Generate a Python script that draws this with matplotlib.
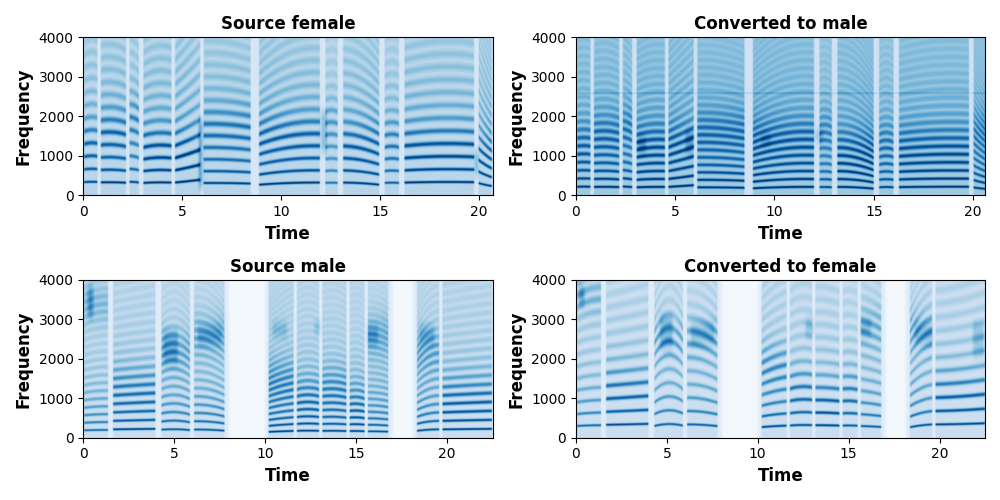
import numpy as np
import matplotlib.pyplot as plt
from matplotlib.ticker import MultipleLocator

FMAX = 4000

# ---- Source female ----
sf_tmax = 20.7
sf_start = [0.0, 0.85, 2.3, 3.0, 4.6, 6.05, 8.85, 12.2, 13.1, 15.2, 16.2, 19.95]
sf_end = [0.75, 2.2, 2.85, 4.5, 5.95, 8.5, 12.0, 12.9, 15.0, 16.0, 19.8, 20.7]
sf_f0a = [320, 315, 330, 300, 310, 300, 255, 300, 310, 300, 310, 300]
sf_f0b = [330, 318, 325, 315, 345, 298, 300, 308, 295, 308, 325, 255]
sf_f0c = [325, 305, 310, 310, 385, 285, 310, 300, 255, 300, 320, 220]
sf_level = [0.8, 0.9, 0.8, 0.9, 0.95, 0.85, 0.9, 0.6, 0.85, 0.7, 0.9, 0.8]
sf_form = [1300, 1600, 1900, 1200, 1100, 1700, 1500, 1800, 1300, 1400, 1200, 1000]
sf_fr_t0 = [5.75, 11.9, 19.7]
sf_fr_t1 = [6.15, 12.4, 20.05]
sf_fr_lo = [0, 900, 300]
sf_fr_hi = [2100, 2300, 1300]
sf_fr_lv = [0.35, 0.25, 0.35]
sf_sil0 = []
sf_sil1 = []

# ---- Converted to male ----
cm_tmax = 20.6
cm_start = sf_start
cm_end = sf_end
cm_f0a = [205, 200, 210, 190, 200, 190, 165, 195, 200, 190, 195, 190]
cm_f0b = [208, 203, 205, 200, 222, 188, 195, 198, 190, 198, 205, 165]
cm_f0c = [205, 195, 195, 200, 245, 178, 200, 190, 155, 190, 205, 145]
cm_level = [0.85, 0.9, 0.85, 0.95, 0.95, 0.9, 0.95, 0.7, 0.9, 0.75, 0.9, 0.8]
cm_form = [1300, 1500, 1700, 1300, 1300, 1600, 1400, 1600, 1100, 1300, 1200, 1600]
cm_fr_t0 = [3.0, 5.4, 11.9, 9.2]
cm_fr_t1 = [3.6, 6.0, 12.5, 9.9]
cm_fr_lo = [900, 900, 1200, 1100]
cm_fr_hi = [1600, 1800, 1800, 1700]
cm_fr_lv = [0.2, 0.2, 0.2, 0.15]
cm_sil0 = []
cm_sil1 = []
cm_bands = [2580]

# ---- Source male ----
sm_tmax = 22.5
sm_start = [0.0, 1.6, 4.25, 6.05, 10.15, 11.7, 13.1, 14.6, 15.6, 18.3, 19.7]
sm_end = [1.4, 4.0, 5.9, 7.8, 11.6, 13.0, 14.5, 15.5, 16.8, 19.6, 22.5]
sm_f0a = [190, 215, 205, 210, 150, 175, 175, 170, 165, 175, 215]
sm_f0b = [198, 222, 218, 205, 165, 182, 178, 173, 163, 205, 222]
sm_f0c = [200, 228, 195, 180, 175, 175, 170, 165, 155, 215, 228]
sm_level = [0.7, 0.9, 0.8, 0.8, 0.9, 0.85, 0.85, 0.8, 0.8, 0.85, 0.9]
sm_form = [3400, 1200, 2200, 2600, 1400, 1000, 1200, 800, 2600, 2200, 1000]
sm_fr_t0 = [0.15, 4.3, 6.2, 15.5, 10.3, 12.6, 18.4]
sm_fr_t1 = [0.65, 5.3, 7.7, 16.3, 11.3, 13.2, 19.4]
sm_fr_lo = [2900, 1700, 2200, 2200, 2400, 2500, 2200]
sm_fr_hi = [4000, 2900, 3000, 3000, 3100, 3100, 3000]
sm_fr_lv = [0.25, 0.2, 0.18, 0.18, 0.15, 0.15, 0.18]
sm_sil0 = [7.9, 16.9]
sm_sil1 = [10.1, 18.2]

# ---- Converted to female ----
cf_tmax = 22.5
cf_start = sm_start
cf_end = sm_end
cf_f0a = [300, 330, 295, 340, 270, 310, 320, 310, 300, 265, 340]
cf_f0b = [315, 342, 350, 330, 295, 325, 318, 313, 290, 315, 350]
cf_f0c = [320, 355, 305, 295, 310, 320, 310, 305, 275, 340, 370]
cf_level = [0.75, 0.9, 0.8, 0.8, 0.9, 0.85, 0.85, 0.8, 0.8, 0.85, 0.9]
cf_form = [3600, 1200, 2500, 2500, 1800, 1200, 900, 1100, 2800, 2700, 1100]
cf_fr_t0 = [0.05, 4.5, 6.2, 12.5, 15.5, 18.5, 21.7]
cf_fr_t1 = [0.55, 5.4, 7.7, 13.2, 16.3, 19.7, 22.5]
cf_fr_lo = [3200, 2100, 2200, 2400, 2400, 2200, 1900]
cf_fr_hi = [4000, 3300, 3100, 3200, 3200, 3100, 3100]
cf_fr_lv = [0.25, 0.22, 0.18, 0.18, 0.18, 0.18, 0.18]
cf_sil0 = sm_sil0
cf_sil1 = sm_sil1


def build_spec(tmax, starts, ends, f0a, f0b, f0c, levels, forms,
               fr_t0, fr_t1, fr_lo, fr_hi, fr_lv, sil0, sil1, bands=(),
               bg=0.1, wash=0.2, decay=1500.0):
    t = np.linspace(0, tmax, 700)
    f = np.linspace(0, FMAX, 400)
    T, F = np.meshgrid(t, f)
    spec = np.full(T.shape, bg)
    for s, e, a, b, c, lv, fm in zip(starts, ends, f0a, f0b, f0c, levels, forms):
        u = (t - s) / (e - s)
        inside = (u >= 0) & (u <= 1)
        w = np.clip(np.minimum(t - s, e - t) / 0.07, 0, 1) * inside
        f0 = (a * 2 * (u - 0.5) * (u - 1) - b * 4 * u * (u - 1)
              + c * 2 * u * (u - 0.5))
        f0 = np.where(inside, f0, 200.0)
        harm = np.zeros(T.shape)
        for k in range(1, int(FMAX / 120) + 1):
            fk = k * f0[None, :]
            sig = 16 + 0.02 * fk
            harm = np.maximum(harm, np.exp(-0.5 * ((F - fk) / sig) ** 2))
        amp = lv * (0.12 + 0.88 * np.exp(-F / decay)
                    + 0.25 * np.exp(-0.5 * ((F - fm) / 400) ** 2))
        spec += w[None, :] * (harm * amp + wash * (0.6 + 0.4 * np.exp(-F / 2000)))
    for fb in bands:
        spec += 0.12 * np.exp(-0.5 * ((F - fb) / 15) ** 2)
    for a, b, lo, hi, lv in zip(fr_t0, fr_t1, fr_lo, fr_hi, fr_lv):
        wt = np.clip(np.minimum(T - a, b - T) / 0.2, 0, 1)
        wf = np.clip(np.minimum(F - lo, hi - F) / 350, 0, 1)
        spec += lv * wt * wf
    for a, b in zip(sil0, sil1):
        ws = np.clip(np.minimum(T - a, b - T) / 0.2, 0, 1)
        spec = spec * (1 - ws) + 0.02 * ws
    return np.clip(spec, 0, 1)


panels = [
    ("Source female", sf_tmax,
     build_spec(sf_tmax, sf_start, sf_end, sf_f0a, sf_f0b, sf_f0c, sf_level, sf_form,
                sf_fr_t0, sf_fr_t1, sf_fr_lo, sf_fr_hi, sf_fr_lv, sf_sil0, sf_sil1,
                bg=0.16, wash=0.14, decay=1300.0)),
    ("Converted to male", cm_tmax,
     build_spec(cm_tmax, cm_start, cm_end, cm_f0a, cm_f0b, cm_f0c, cm_level, cm_form,
                cm_fr_t0, cm_fr_t1, cm_fr_lo, cm_fr_hi, cm_fr_lv, cm_sil0, cm_sil1,
                bands=cm_bands, bg=0.2, wash=0.18, decay=1000.0)),
    ("Source male", sm_tmax,
     build_spec(sm_tmax, sm_start, sm_end, sm_f0a, sm_f0b, sm_f0c, sm_level, sm_form,
                sm_fr_t0, sm_fr_t1, sm_fr_lo, sm_fr_hi, sm_fr_lv, sm_sil0, sm_sil1,
                bg=0.12, wash=0.11, decay=1000.0)),
    ("Converted to female", cf_tmax,
     build_spec(cf_tmax, cf_start, cf_end, cf_f0a, cf_f0b, cf_f0c, cf_level, cf_form,
                cf_fr_t0, cf_fr_t1, cf_fr_lo, cf_fr_hi, cf_fr_lv, cf_sil0, cf_sil1,
                bg=0.12, wash=0.11, decay=1100.0)),
]

fig, axes = plt.subplots(2, 2, figsize=(10, 5))
for ax, (title, tmax, spec) in zip(axes.flat, panels):
    ax.imshow(spec, origin="lower", aspect="auto", cmap="Blues",
              extent=[0, tmax, 0, FMAX], vmin=0, vmax=1)
    ax.set_title(title, fontweight="bold")
    ax.set_xlabel("Time", fontsize=12, fontweight="bold")
    ax.set_ylabel("Frequency", fontsize=12, fontweight="bold")
    ax.set_ylim(0, FMAX)
    ax.xaxis.set_major_locator(MultipleLocator(5))

plt.tight_layout()
plt.savefig("out.png", dpi=100)
